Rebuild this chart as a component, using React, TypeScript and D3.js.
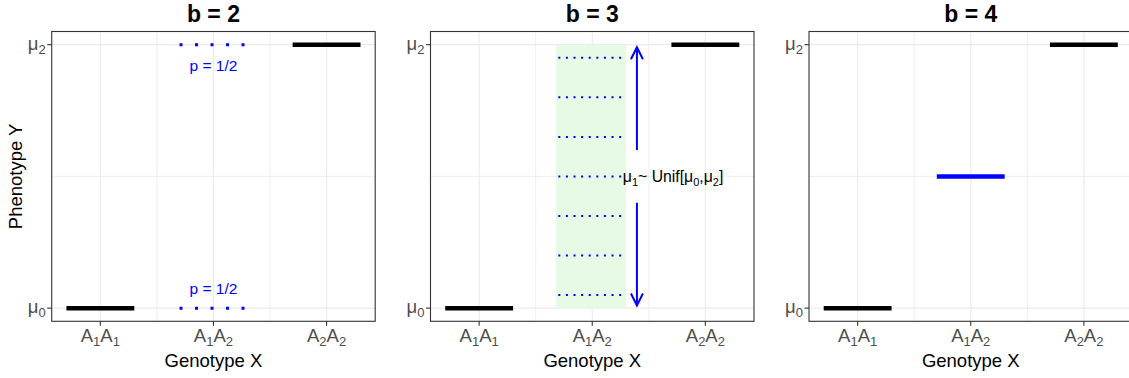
import React from "react";
import * as d3 from "d3";

// ---- data ----
const panelTitles = ["b = 2", "b = 3", "b = 4"];
const genotypes = ["A1A1", "A1A2", "A2A2"];
const genotypePos = [1, 2, 3];
const yTickValues = [0, 2];
const yTickLabels = [["μ", "0"], ["μ", "2"]];
// baseline homozygote means (all panels)
const homSegX = [1, 3];
const homSegY = [0, 2];
// panel b=2: heterozygote at mu0 or mu2 with p=1/2
const b2DottedY = [0, 2];
const b2Labels = ["p = 1/2", "p = 1/2"];
const b2LabelY = [0.15, 1.84];
// panel b=3: uniform heterozygote mean
const b3DottedY = [0.1, 0.4, 0.7, 1.0, 1.3, 1.6, 1.9];
const b3ArrowUp = [1.2, 1.98];
const b3ArrowDown = [0.8, 0.02];
const b3Text = "Unif";
// panel b=4: heterozygote at mu1
const b4HetY = [1];

const W = 1129;
const H = 378;
const panelLefts = [51.7, 430.5, 809];
const panelW = 323.5;
const top = 31.5;
const bottom = 321.3;

const xScaleFor = (i: number) =>
  d3.scaleLinear().domain([0.57, 3.43]).range([panelLefts[i], panelLefts[i] + panelW]);
const yScale = d3.scaleLinear().domain([-0.1, 2.1]).range([bottom, top]);

const FONT = "Liberation Sans, Arial, sans-serif";
const BLUE = "#0000FF";

function GenoLabel({ s, x, y }: { s: string; x: number; y: number }) {
  const parts: JSX.Element[] = [];
  for (let k = 0; k < s.length; k += 2) {
    parts.push(
      <tspan key={k} dy={k === 0 ? 0 : -4.5}>{s[k]}</tspan>,
      <tspan key={k + "s"} fontSize={13} dy={4.5}>{s[k + 1]}</tspan>
    );
  }
  return (
    <text x={x} y={y} textAnchor="middle" fontSize={18.5} fill="#4D4D4D" fontFamily={FONT}>
      {parts}
    </text>
  );
}

function Arrow({ x, y1, y2 }: { x: number; y1: number; y2: number }) {
  const dir = y2 < y1 ? 1 : -1;
  const hl = 12, hw = 6;
  return (
    <g stroke={BLUE} strokeWidth={2} fill="none">
      <line x1={x} y1={y1} x2={x} y2={y2} />
      <polyline points={`${x - hw},${y2 + dir * hl} ${x},${y2} ${x + hw},${y2 + dir * hl}`} />
    </g>
  );
}

function Panel({ i }: { i: number }) {
  const x = xScaleFor(i);
  const y = yScale;
  const left = panelLefts[i];
  const right = left + panelW;
  const majorX = genotypePos;
  const minorX = [1.5, 2.5];
  const majorY = yTickValues;
  const minorY = [1];
  const cx = (left + right) / 2;
  return (
    <g>
      <rect x={left} y={top} width={panelW} height={bottom - top} fill="white" />
      {minorX.map((v) => (
        <line key={"mx" + v} x1={x(v)} x2={x(v)} y1={top} y2={bottom} stroke="#EBEBEB" strokeWidth={0.8} />
      ))}
      {minorY.map((v) => (
        <line key={"my" + v} x1={left} x2={right} y1={y(v)} y2={y(v)} stroke="#EBEBEB" strokeWidth={0.8} />
      ))}
      {majorX.map((v) => (
        <line key={"Mx" + v} x1={x(v)} x2={x(v)} y1={top} y2={bottom} stroke="#EBEBEB" strokeWidth={1.1} />
      ))}
      {majorY.map((v) => (
        <line key={"My" + v} x1={left} x2={right} y1={y(v)} y2={y(v)} stroke="#EBEBEB" strokeWidth={1.1} />
      ))}

      {i === 1 && (
        <g>
          <rect x={x(1.68)} y={y(2)} width={x(2.3) - x(1.68)} height={y(0) - y(2)} fill="#E6FAE6" />
          {b3DottedY.map((v) => (
            <line key={v} x1={x(1.7)} x2={x(2.3)} y1={y(v)} y2={y(v)} stroke={BLUE} strokeWidth={2} strokeDasharray="2 5.6" />
          ))}
          <Arrow x={x(2.395)} y1={y(b3ArrowUp[0])} y2={y(b3ArrowUp[1])} />
          <Arrow x={x(2.395)} y1={y(b3ArrowDown[0])} y2={y(b3ArrowDown[1])} />
          <text x={x(2.27)} y={y(1) + 6} fontSize={15.8} fill="black" fontFamily={FONT}>
            <tspan>μ</tspan>
            <tspan fontSize={11} dy={3.5}>1</tspan>
            <tspan dy={-3.5}>{"~ " + b3Text + "[μ"}</tspan>
            <tspan fontSize={11} dy={3.5}>0</tspan>
            <tspan dy={-3.5}>,μ</tspan>
            <tspan fontSize={11} dy={3.5}>2</tspan>
            <tspan dy={-3.5}>]</tspan>
          </text>
        </g>
      )}

      {homSegX.map((gx, k) => (
        <line key={"h" + k} x1={x(gx - 0.3)} x2={x(gx + 0.3)} y1={y(homSegY[k])} y2={y(homSegY[k])} stroke="black" strokeWidth={4.5} />
      ))}

      {i === 0 && (
        <g>
          {b2DottedY.map((v) => (
            <line key={v} x1={x(1.7)} x2={x(2.3)} y1={y(v)} y2={y(v)} stroke={BLUE} strokeWidth={3} strokeDasharray="3 12.5" />
          ))}
          {b2Labels.map((t, k) => (
            <text key={k} x={x(2)} y={y(b2LabelY[k]) + 5.5} textAnchor="middle" fontSize={15.5} fill={BLUE} fontFamily={FONT}>
              {t}
            </text>
          ))}
        </g>
      )}

      {i === 2 &&
        b4HetY.map((v) => (
          <line key={v} x1={x(1.7)} x2={x(2.3)} y1={y(v)} y2={y(v)} stroke={BLUE} strokeWidth={4.5} />
        ))}

      <rect x={left} y={top} width={panelW} height={bottom - top} fill="none" stroke="#333333" strokeWidth={1.1} />

      {yTickValues.map((v, k) => (
        <g key={"yt" + v}>
          <line x1={left - 4.5} x2={left} y1={y(v)} y2={y(v)} stroke="#333333" strokeWidth={1.1} />
          <text x={left - 6} y={y(v) + 5} textAnchor="end" fontSize={18.5} fill="#4D4D4D" fontFamily={FONT}>
            <tspan>{yTickLabels[k][0]}</tspan>
            <tspan fontSize={13} dy={4}>{yTickLabels[k][1]}</tspan>
          </text>
        </g>
      ))}
      {genotypePos.map((v, k) => (
        <g key={"xt" + v}>
          <line x1={x(v)} x2={x(v)} y1={bottom} y2={bottom + 4.5} stroke="#333333" strokeWidth={1.1} />
          <GenoLabel s={genotypes[k]} x={x(v)} y={341.7} />
        </g>
      ))}
      <text x={cx} y={367} textAnchor="middle" fontSize={18.5} fill="black" fontFamily={FONT}>
        Genotype X
      </text>
      <text x={cx} y={22} textAnchor="middle" fontSize={23} fontWeight="bold" fill="black" fontFamily={FONT}>
        {panelTitles[i]}
      </text>
    </g>
  );
}

export default function App() {
  return (
    <svg
      width={W}
      height={H}
      style={{ position: "absolute", left: 0, top: 0, background: "white" }}
    >
      <rect width={W} height={H} fill="white" />
      {[0, 1, 2].map((i) => (
        <Panel key={i} i={i} />
      ))}
      <text
        transform={`translate(21.7, ${yScale(1)}) rotate(-90)`}
        textAnchor="middle"
        fontSize={18.5}
        fill="black"
        fontFamily={FONT}
      >
        Phenotype Y
      </text>
    </svg>
  );
}
